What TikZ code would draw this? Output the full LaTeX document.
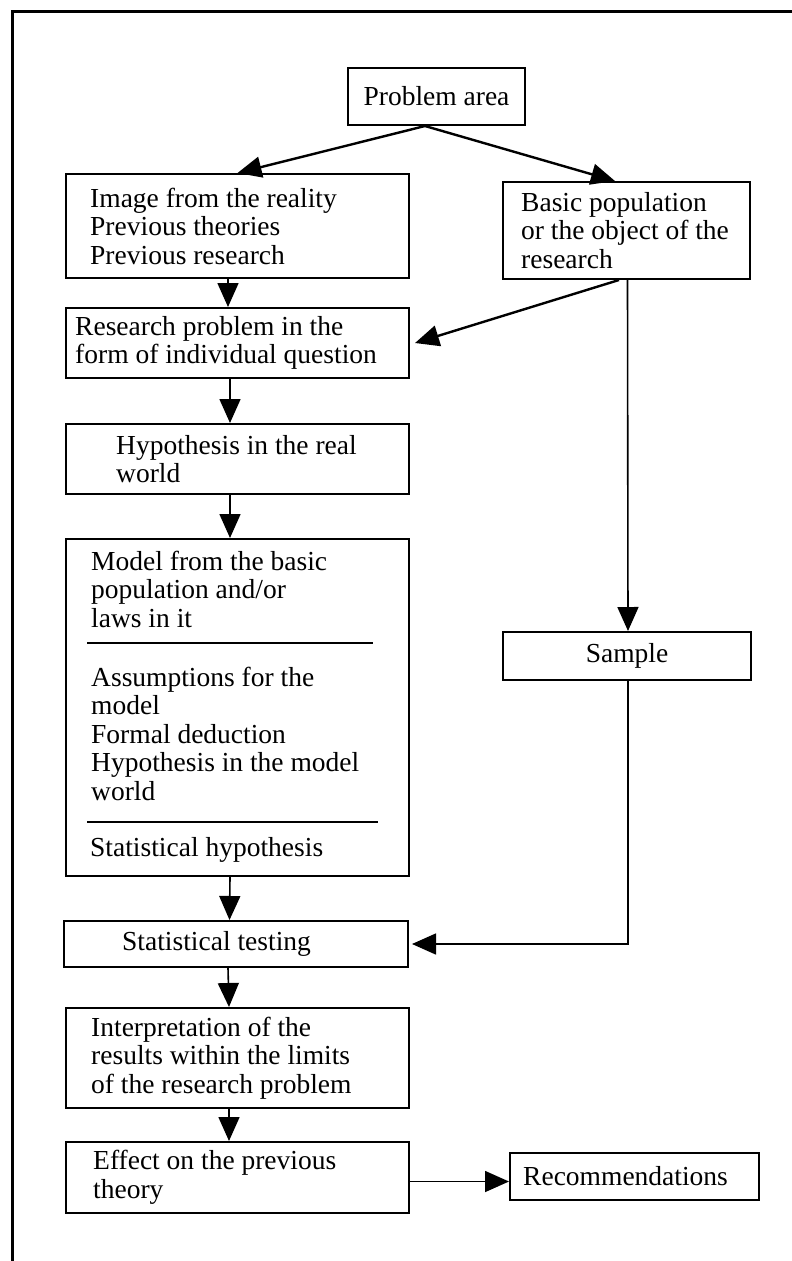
\documentclass[tikz,border=0pt]{standalone}
\usepackage{fontspec}
\setmainfont{Liberation Serif}
\usetikzlibrary{arrows.meta}
\begin{document}
\begin{tikzpicture}[x=1pt,y=-1pt,
  box/.style={draw,line width=2pt,rectangle,inner sep=0pt,anchor=north west,
    font=\fontsize{27.5}{28.5}\selectfont},
  txt/.style={inner sep=0pt,anchor=west,align=left,font=\fontsize{27.5}{28.5}\selectfont},
  arr/.style={line width=1.6pt,-{Triangle[length=24pt,width=21pt]}},
  diag/.style={arr,line width=2.4pt},
  ln/.style={line width=2pt}]
\useasboundingbox (0,0) rectangle (792,1261);
% frame
\draw[line width=3pt,line join=miter] (12.5,1262) -- (12.5,11) -- (793,11);
% boxes
\node[box,minimum width=177pt,minimum height=57pt] (pa) at (347,67) {Problem area};
\node[box,minimum width=343pt,minimum height=104pt] (b1) at (65,173) {};
\node[box,minimum width=247pt,minimum height=97pt] (bp) at (502,181) {};
\node[box,minimum width=343pt,minimum height=70pt] (rp) at (65,307) {};
\node[box,minimum width=343pt,minimum height=70pt] (hr) at (65,423) {};
\node[box,minimum width=343pt,minimum height=337pt] (mo) at (65,538) {};
\node[box,minimum width=248pt,minimum height=48pt] (sa) at (502,631) {Sample};
\node[box,minimum width=344pt,minimum height=46pt] (st) at (63,920) {};
\node[box,minimum width=343pt,minimum height=100pt] (in) at (65,1007) {};
\node[box,minimum width=343pt,minimum height=71pt] (ef) at (65,1141) {};
\node[box,minimum width=249pt,minimum height=47pt] (re) at (509,1152) {};
% texts
\node[txt] (t1) at ([xshift=25pt]b1.west) {Image from the reality\\Previous theories\\Previous research};
\node[txt] (tbp) at ([xshift=19pt]bp.west) {Basic population\\or the object of the\\research};
\node[txt] (trp) at ([xshift=10pt]rp.west) {Research problem in the\\form of individual question};
\node[txt] (thr) at ([xshift=51pt]hr.west) {Hypothesis in the real\\world};
\node[txt] (tm1) at ([xshift=26pt,yshift=-51pt]mo.north west) {Model from the basic\\population and/or\\laws in it};
\node[txt] (tm2) at ([xshift=26pt,yshift=-195.5pt]mo.north west) {Assumptions for the\\model\\Formal deduction\\Hypothesis in the model\\world};
\node[txt] (tm3) at ([xshift=25pt,yshift=-312pt]mo.north west) {Statistical hypothesis};
\node[txt] (tst) at ([xshift=59pt]st.west) {Statistical testing};
\node[txt] (tin) at ([xshift=26pt]in.west) {Interpretation of the\\results within the limits\\of the research problem};
\node[txt] (tef) at ([xshift=28pt]ef.west) {Effect on the previous\\theory};
\node[txt] (tre) at ([xshift=14pt]re.west) {Recommendations};
% separators
\draw[ln] ([xshift=22pt,yshift=-105pt]mo.north west) -- ([xshift=308pt,yshift=-105pt]mo.north west);
\draw[ln] ([xshift=22pt,yshift=-284pt]mo.north west) -- ([xshift=313pt,yshift=-284pt]mo.north west);
% connectors
\draw[diag] ([xshift=-11.5pt]pa.south) -- (b1.north);
\draw[diag] ([xshift=-11.5pt]pa.south) -- ([xshift=-11.5pt]bp.north);
\draw[arr] ([xshift=-9.5pt]b1.south) -- ([xshift=-9.5pt]rp.north);
\draw[diag] ([xshift=-7.5pt]bp.south) -- ([xshift=5pt]rp.east);
\draw[arr] ([xshift=-7.5pt]rp.south) -- ([xshift=-7.5pt]hr.north);
\draw[arr] ([xshift=-7.5pt]hr.south) -- ([xshift=-7.5pt]mo.north);
\draw[arr] ([xshift=-7.5pt]mo.south) -- ([xshift=-6.5pt]st.north);
\draw[arr] ([xshift=-8pt]st.south) -- ([xshift=-8.5pt]in.north);
\draw[arr] ([xshift=-8.5pt]in.south) -- ([xshift=-8.5pt]ef.north);
\draw[arr] ([xshift=1pt]bp.south) -- ([xshift=1pt]sa.north);
\draw[arr] ([xshift=1pt]sa.south) |- ([xshift=3pt]st.east);
\draw[arr] ([yshift=-4pt]ef.east) -- ([yshift=-4pt]ef.east -| re.west);
\end{tikzpicture}
\end{document}
